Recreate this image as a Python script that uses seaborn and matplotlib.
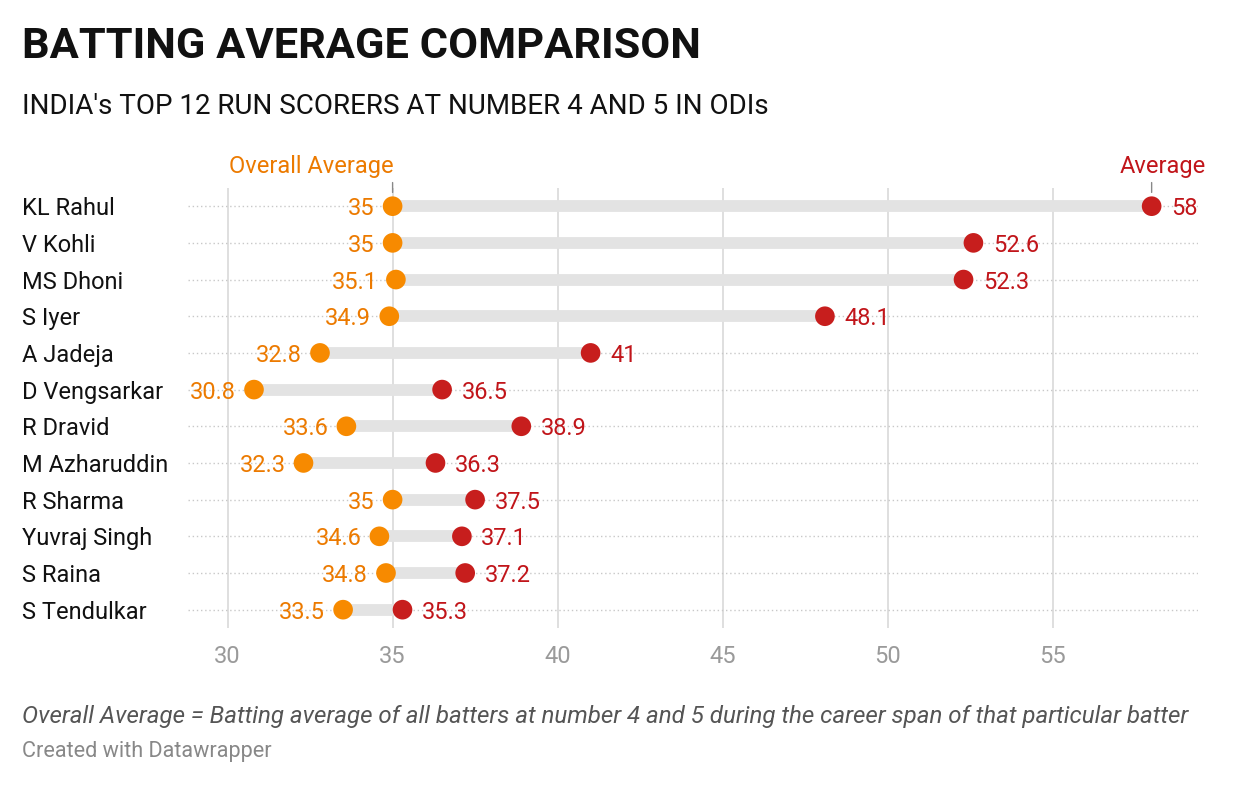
import matplotlib
matplotlib.use("Agg")
import matplotlib.pyplot as plt
import matplotlib.transforms as mtransforms
import pandas as pd
import seaborn as sns

# data
players = ["KL Rahul", "V Kohli", "MS Dhoni", "S Iyer", "A Jadeja", "D Vengsarkar",
           "R Dravid", "M Azharuddin", "R Sharma", "Yuvraj Singh", "S Raina", "S Tendulkar"]
overall_avg = [35, 35, 35.1, 34.9, 32.8, 30.8, 33.6, 32.3, 35, 34.6, 34.8, 33.5]
batting_avg = [58, 52.6, 52.3, 48.1, 41, 36.5, 38.9, 36.3, 37.5, 37.1, 37.2, 35.3]
x_ticks = [30, 35, 40, 45, 50, 55]

ORANGE = "#f78a00"
ORANGE_TXT = "#ec7a00"
RED = "#c71e1d"
RED_TXT = "#c1151a"

df = pd.DataFrame({"player": players, "overall": overall_avg, "average": batting_avg})
df["row"] = range(len(df))

sns.set_theme(style="white")
plt.rcParams["font.family"] = ["Roboto", "DejaVu Sans"]

fig = plt.figure(figsize=(12.4, 7.86), dpi=100)
ax = fig.add_axes([0.1516, 0.201, 0.8144, 0.56])

# gridlines
for t in x_ticks:
    ax.axvline(t, color="#dcdcdc", lw=1.3, zorder=0)
ax.hlines(df["row"], 28.8, 59.4, colors="#c8c8c8", linestyles=(0, (1, 2)), lw=1, zorder=1)

# range bars
ax.hlines(df["row"], df["overall"], df["average"], colors="#e3e3e3", lw=8.5, zorder=2)

sns.scatterplot(data=df, x="overall", y="row", color=ORANGE, s=200, edgecolor="none",
                zorder=3, ax=ax, legend=False)
sns.scatterplot(data=df, x="average", y="row", color=RED, s=200, edgecolor="none",
                zorder=3, ax=ax, legend=False)

for _, r in df.iterrows():
    ax.annotate(f"{r['overall']:g}", (r["overall"], r["row"]), xytext=(-13, 0),
                textcoords="offset points", ha="right", va="center_baseline",
                color=ORANGE_TXT, fontsize=17)
    ax.annotate(f"{r['average']:g}", (r["average"], r["row"]), xytext=(14, 0),
                textcoords="offset points", ha="left", va="center_baseline",
                color=RED_TXT, fontsize=17)

# row labels
trans = mtransforms.blended_transform_factory(fig.transFigure, ax.transData)
for _, r in df.iterrows():
    ax.text(22 / 1240, r["row"], r["player"], transform=trans, ha="left",
            va="center_baseline", fontsize=17, color="#111111")

# header labels with small leader ticks
ax.annotate("Overall Average", (df["overall"][0], -0.72), xytext=(1, 1),
            textcoords="offset points", ha="right", va="bottom",
            color=ORANGE_TXT, fontsize=17, annotation_clip=False)
ax.annotate("", (df["overall"][0], -0.3), xytext=(df["overall"][0], -0.72),
            arrowprops=dict(arrowstyle="-", color="#888888", lw=1), annotation_clip=False)
ax.annotate("Average", (df["average"][0], -0.72), xytext=(8, 1),
            textcoords="offset points", ha="center", va="bottom",
            color=RED_TXT, fontsize=17, annotation_clip=False)
ax.annotate("", (df["average"][0], -0.3), xytext=(df["average"][0], -0.72),
            arrowprops=dict(arrowstyle="-", color="#888888", lw=1), annotation_clip=False)

ax.set_xlim(28.8, 59.4)
ax.set_ylim(11.5, -0.5)
ax.set_xticks(x_ticks)
ax.set_xticklabels([str(t) for t in x_ticks])
ax.set_yticks([])
ax.tick_params(axis="x", length=0, pad=12, labelsize=17, labelcolor="#9a9a9a")
ax.set_xlabel("")
ax.set_ylabel("")
sns.despine(ax=ax, left=True, bottom=True)

fig.text(22 / 1240, 1 - 46 / 786, "BATTING AVERAGE COMPARISON", fontsize=31.2,
         fontweight="bold", color="#111111", ha="left", va="center")
fig.text(22 / 1240, 1 - 107 / 786, "INDIA's TOP 12 RUN SCORERS AT NUMBER 4 AND 5 IN ODIs",
         fontsize=20, color="#111111", ha="left", va="center")
fig.text(22 / 1240, 1 - 716 / 786,
         "Overall Average = Batting average of all batters at number 4 and 5 during the career span of that particular batter",
         fontsize=17.4, style="italic", color="#555555", ha="left", va="center")
fig.text(22 / 1240, 1 - 752 / 786, "Created with Datawrapper", fontsize=15.6,
         color="#888888", ha="left", va="center")

fig.savefig("out.png", dpi=100)
